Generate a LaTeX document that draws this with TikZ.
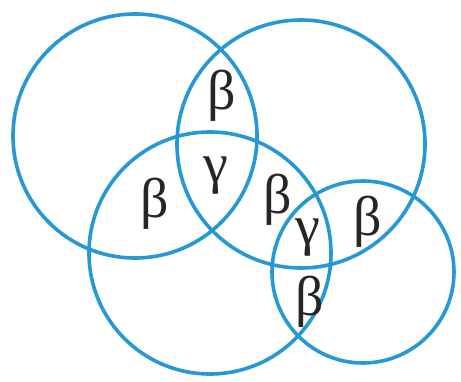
\documentclass[tikz,border=0pt]{standalone}
\usepackage{fontspec}
\setmainfont{Liberation Serif}
\definecolor{ringblue}{RGB}{38,152,212}
\begin{document}
\begin{tikzpicture}[x=1pt,y=-1pt,
  ring/.style={draw=ringblue,line width=3.6pt},
  lbl/.style={font=\fontsize{56}{56}\selectfont,text=black!85,inner sep=0pt}]
\useasboundingbox[fill=white] (0,0) rectangle (461,381);
\node[ring,circle,minimum size=244pt,inner sep=0pt] (A) at (135,136) {};
\node[ring,circle,minimum size=248pt,inner sep=0pt] (B) at (301,144) {};
\node[ring,circle,minimum size=242pt,inner sep=0pt] (C) at (210,253) {};
\node[ring,circle,minimum size=182pt,inner sep=0pt] (D) at (363,272) {};
\node[lbl] (b1) at (222,96) {β};
\node[lbl] (g1) at (216,176) {γ};
\node[lbl] (b2) at (155,204) {β};
\node[lbl] (b3) at (278,200) {β};
\node[lbl] (g2) at (308,238) {γ};
\node[lbl] (b4) at (368,222) {β};
\node[lbl] (b5) at (310,302) {β};
\end{tikzpicture}
\end{document}
